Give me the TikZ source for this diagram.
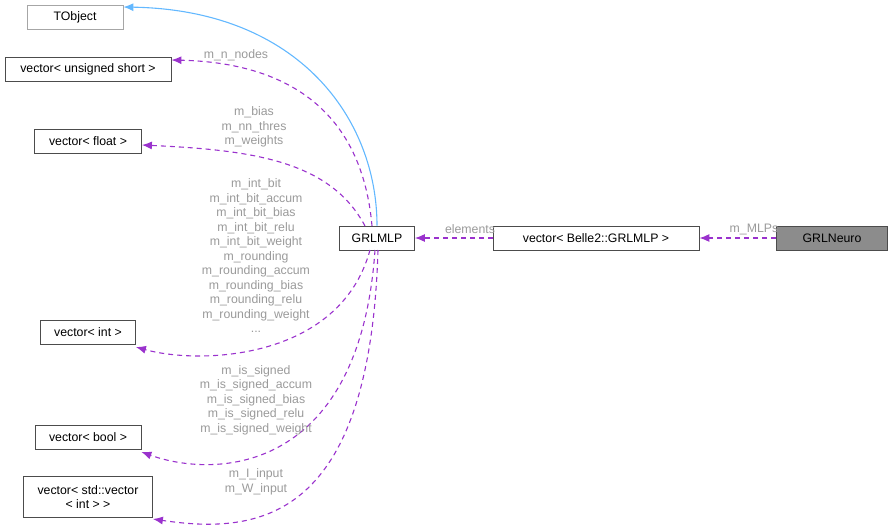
\documentclass[tikz,border=0pt]{standalone}
\usepackage{fontspec}
\setmainfont{Liberation Sans}
\definecolor{edgepurple}{HTML}{9A32CD}
\definecolor{edgeblue}{HTML}{63B8FF}
\definecolor{lblgray}{HTML}{9A9A9A}
\usetikzlibrary{positioning,arrows.meta}
\begin{document}
\begin{tikzpicture}
    [x=1pt,y=-1pt,font=\fontsize{12.3}{14.5}\selectfont,line width=1.1pt,
      cls/.style={rectangle,draw=black!70,line width=0.8pt,fill=white,inner sep=0pt,minimum height=24pt},
      uses/.style={-{Latex[length=10pt,width=8pt]},edgepurple,dash pattern=on 5pt off 4pt},
      lbl/.style={text=lblgray,align=center,inner sep=0pt,font=\fontsize{12.3}{14.5}\selectfont}]
  \useasboundingbox (0,0) rectangle (895,531);

  \node [cls,draw=black!35,minimum width=96pt] (tobj) at (75,17) {TObject};
  \node [cls,minimum width=166pt] (vshort) at (88,69) {vector< unsigned short >};
  \node [cls,minimum width=107pt] (vfloat) at (88,141) {vector< float >};
  \node [cls,minimum width=75pt] (mlp) at (377,238) {GRLMLP};
  \node [cls,minimum width=206pt] (vmlp) at (596,238) {vector< Belle2::GRLMLP >};
  \node [cls,fill=black!45,minimum width=111pt] (neuro) at (832,238) {GRLNeuro};
  \node [cls,minimum width=95pt] (vint) at (88,332) {vector< int >};
  \node [cls,minimum width=106pt] (vbool) at (88,437) {vector< bool >};
  \node [cls,minimum width=129pt,minimum height=41pt,align=center] (vvec) at (88,497) {vector< std::vector\\< int > >};

  \draw [-{Latex[length=10pt,width=8pt]},edgeblue] (mlp.north) .. controls (377,120) and (300,10) .. (tobj.east |- 0,7);
  \draw [uses] (372,226) .. controls (360,90) and (260,62) .. (vshort.east |- 0,60);
  \draw [uses] (365,226) .. controls (330,160) and (250,150) .. (vfloat.east |- 0,145);
  \draw [uses] (370,250) .. controls (340,360) and (200,365) .. (vint.east |- 0,347);
  \draw [uses] (375,250) .. controls (360,470) and (220,480) .. (vbool.east |- 0,452);
  \draw [uses] (378,250) .. controls (370,520) and (260,535) .. (vvec.east |- 0,519);
  \draw [uses] (vmlp) -- (mlp);
  \draw [uses] (neuro) -- (vmlp);

  \node [lbl] (lnodes) at (236,55) {m\_n\_nodes};
  \node [lbl] (lfloat) at (254,127) {m\_bias\\m\_nn\_thres\\m\_weights};
  \node [lbl] (lint) at (256,256) {m\_int\_bit\\m\_int\_bit\_accum\\m\_int\_bit\_bias\\m\_int\_bit\_relu\\m\_int\_bit\_weight\\m\_rounding\\m\_rounding\_accum\\m\_rounding\_bias\\m\_rounding\_relu\\m\_rounding\_weight\\...};
  \node [lbl] (lbool) at (256,400) {m\_is\_signed\\m\_is\_signed\_accum\\m\_is\_signed\_bias\\m\_is\_signed\_relu\\m\_is\_signed\_weight};
  \node [lbl] (lvec) at (256,482) {m\_I\_input\\m\_W\_input};
  \node [lbl] (lelem) at (470,229) {elements};
  \node [lbl] (lmlps) at (754,229) {m\_MLPs};
\end{tikzpicture}
\end{document}
